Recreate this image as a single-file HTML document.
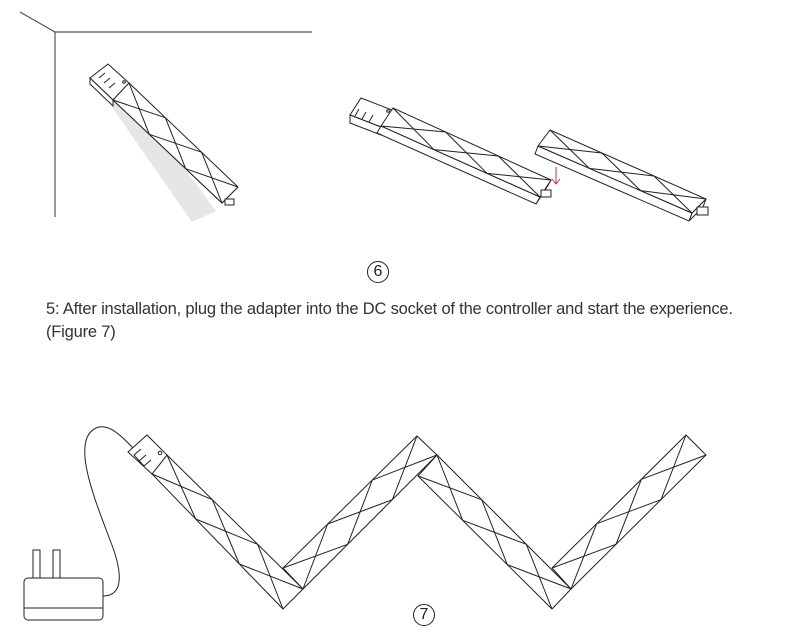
<!DOCTYPE html>
<html><head><meta charset="utf-8"><style>
body{margin:0;background:#fff;width:802px;height:636px;overflow:hidden;position:relative;font-family:"Liberation Sans",sans-serif}
svg{position:absolute;left:0;top:0}
.t{position:absolute;left:46px;font-size:16.5px;color:#333;white-space:nowrap;letter-spacing:-0.2px}
.c{position:absolute;width:20px;height:20px;border:1.3px solid #222;border-radius:50%;font-size:16px;line-height:20px;text-align:center;color:#222}
</style></head><body>
<svg id="s" width="802" height="636" viewBox="0 0 802 636" fill="none" stroke="#222" stroke-width="1">
<polyline points="20,12 55,32 312,32" stroke="#555" stroke-width="1.2"/>
<line x1="55" y1="32" x2="55" y2="217" stroke="#555" stroke-width="1.2"/>
<polygon points="107,100 128,92 216,211 192,222" fill="#e6e6e6" stroke="none"/>
<polygon points="90,78 108,64 129,83 113,100" fill="#fff"/>
<polygon points="90,78 113,100 113,106 90,84" fill="#fff"/>
<line x1="99" y1="78" x2="105" y2="73"/><line x1="104" y1="83" x2="110" y2="78"/><line x1="109" y1="88" x2="115" y2="83"/>
<circle cx="124" cy="82" r="1.3"/>
<polygon points="350,115 361,98 392,110 381,127" fill="#fff"/>
<polygon points="350,115 381,127 381,135 350,123" fill="#fff"/>
<line x1="355" y1="116" x2="359" y2="109"/><line x1="362" y1="119" x2="366" y2="112"/><line x1="369" y1="122" x2="373" y2="115"/>
<circle cx="388" cy="111" r="1.3"/>
<line x1="556" y1="167" x2="556" y2="184" stroke="#c03040"/>
<polyline points="552,179 556,184 560,179" stroke="#c03040"/>
</svg>
<div class="c" style="left:367px;top:261px">6</div>
<div class="t" style="top:300px">5: After installation, plug the adapter into the DC socket of the controller and start the experience.</div>
<div class="t" style="top:323px">(Figure 7)</div>
<div class="c" style="left:413px;top:604px">7</div>
<script>
var s=document.getElementById('s'),NS='http://www.w3.org/2000/svg';
function el(n,a){var e=document.createElementNS(NS,n);for(var k in a)e.setAttribute(k,a[k]);s.appendChild(e);return e}
function L(p,q){el('line',{x1:p[0],y1:p[1],x2:q[0],y2:q[1]})}
function lerp(a,b,t){return [a[0]+(b[0]-a[0])*t,a[1]+(b[1]-a[1])*t]}
function strip(a,b,c,d,n,side){
 if(side){el('polygon',{points:[d,c,[c[0]+side[0],c[1]+side[1]],[d[0]+side[0],d[1]+side[1]]].join(' '),fill:'#fff'});
  el('polygon',{points:[a,d,[d[0]+side[0],d[1]+side[1]],[a[0]+side[0],a[1]+side[1]]].join(' '),fill:'#fff'});}
 el('polygon',{points:[a,b,c,d].join(' '),fill:'#fff'});
 for(var i=0;i<n;i++){var t0=i/n,t1=(i+1)/n;
  L(lerp(a,d,t0),lerp(b,c,t1));L(lerp(b,c,t0),lerp(a,d,t1));}
}
strip([113,100],[129,83],[238,187],[222,203],3,[0,0]);
el('rect',{x:225,y:199,width:9,height:6,fill:'#fff'});
strip([381,126],[393,108],[551,180],[540,197],3,[-4,7]);
el('rect',{x:541,y:190,width:10,height:7,fill:'#fff'});
strip([538,146],[550,130],[706,199],[692,213],3,[-3,8]);
el('rect',{x:697,y:207,width:11,height:8,fill:'#fff'});
strip([152,474],[167,455],[303,589],[283,609],3);
strip([283,568],[303,589],[437,455],[417,436],3);
strip([437,455],[418,476],[552,609],[571,589],3);
strip([552,568],[571,589],[706,455],[686,435],3);
el('polygon',{points:'128,452 147,435 167,455 152,474',fill:'#fff'});
L([134,455],[141,449]);L([139,461],[146,455]);L([144,466],[151,460]);L([134,455],[144,466]);
el('circle',{cx:160,cy:453,r:1.8});
el('path',{d:'M103,596 C125,596 122,570 110,540 C95,500 70,440 96,428 C110,422 125,440 133,448'});
el('rect',{x:24,y:578,width:79,height:42,rx:4,fill:'#fff'});
L([24,608],[103,608]);
el('rect',{x:33,y:550,width:7,height:28,fill:'#fff'});
el('rect',{x:53,y:550,width:7,height:28,fill:'#fff'});
</script>
</body></html>
